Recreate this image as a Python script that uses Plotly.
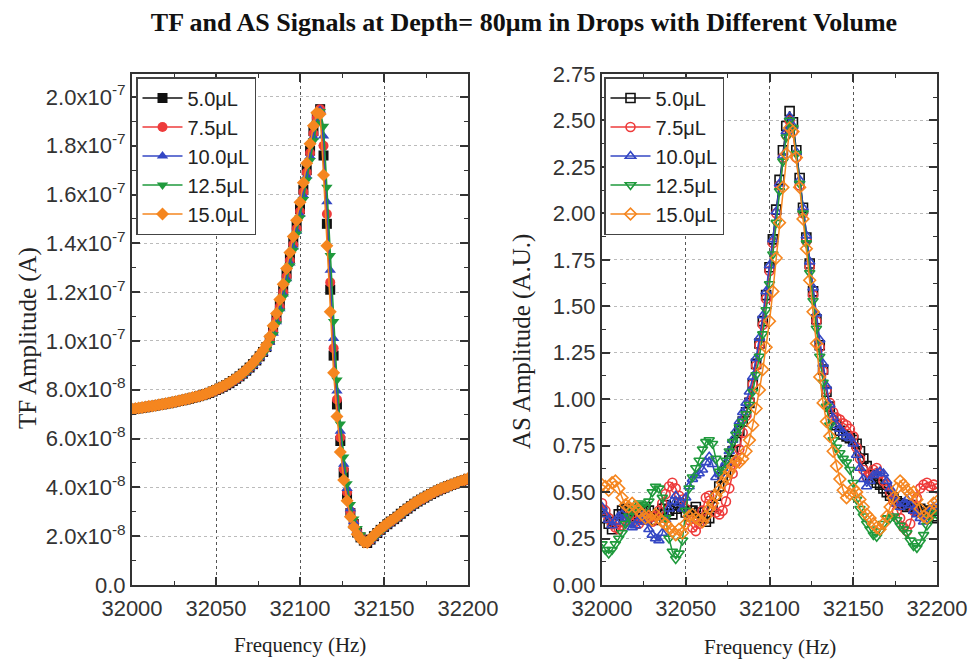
import plotly.graph_objects as go

# ---------------- data ----------------
freq = list(range(32000, 32201, 2))  # Hz, 2 Hz sampling
volumes = ["5.0μL", "7.5μL", "10.0μL", "12.5μL", "15.0μL"]
colors = ["#111111", "#ee3b3b", "#3447c4", "#1f9a3c", "#f5861f"]

# TF amplitude in units of 1e-8 A
tf_5_0 = [7.20, 7.22, 7.24, 7.26, 7.28, 7.31, 7.33, 7.35, 7.38, 7.40,
          7.43, 7.45, 7.48, 7.51, 7.54, 7.57, 7.60, 7.63, 7.67, 7.70,
          7.74, 7.78, 7.82, 7.87, 7.93, 7.99, 8.05, 8.12, 8.19, 8.27,
          8.36, 8.45, 8.55, 8.66, 8.78, 8.91, 9.05, 9.20, 9.37, 9.55,
          9.75, 10.05, 10.45, 10.95, 11.50, 12.10, 12.75, 13.40, 14.05, 14.70,
          15.40, 16.20, 17.00, 17.80, 18.60, 19.20, 19.50, 17.60, 14.80, 12.10,
          9.40, 7.40, 5.90, 4.60, 3.70, 2.95, 2.50, 2.15, 1.95, 1.82,
          1.72, 1.86, 2.00, 2.13, 2.26, 2.38, 2.49, 2.60, 2.70, 2.80,
          2.92, 3.03, 3.13, 3.23, 3.33, 3.42, 3.50, 3.58, 3.66, 3.73,
          3.80, 3.87, 3.93, 3.99, 4.05, 4.10, 4.15, 4.20, 4.25, 4.30,
          4.35]
tf_7_5 = [7.20, 7.22, 7.24, 7.26, 7.29, 7.31, 7.33, 7.36, 7.38, 7.40,
          7.43, 7.46, 7.48, 7.51, 7.54, 7.57, 7.60, 7.63, 7.67, 7.70,
          7.74, 7.78, 7.82, 7.87, 7.92, 7.98, 8.04, 8.11, 8.18, 8.26,
          8.35, 8.44, 8.54, 8.65, 8.77, 8.90, 9.04, 9.19, 9.35, 9.53,
          9.72, 10.00, 10.38, 10.86, 11.40, 12.00, 12.64, 13.30, 13.95, 14.60,
          15.30, 16.10, 16.90, 17.70, 18.50, 19.15, 19.50, 18.00, 15.20, 12.40,
          9.70, 7.60, 6.05, 4.75, 3.80, 3.02, 2.55, 2.18, 1.97, 1.83,
          1.73, 1.85, 1.99, 2.12, 2.25, 2.37, 2.48, 2.59, 2.69, 2.79,
          2.91, 3.02, 3.12, 3.22, 3.32, 3.41, 3.49, 3.57, 3.65, 3.72,
          3.79, 3.86, 3.92, 3.98, 4.04, 4.09, 4.14, 4.19, 4.24, 4.29,
          4.34]
tf_10_0 = [7.19, 7.22, 7.23, 7.26, 7.28, 7.30, 7.33, 7.35, 7.37, 7.40,
           7.42, 7.45, 7.47, 7.50, 7.53, 7.56, 7.59, 7.62, 7.66, 7.69,
           7.73, 7.77, 7.81, 7.86, 7.91, 7.97, 8.03, 8.10, 8.17, 8.25,
           8.34, 8.43, 8.52, 8.63, 8.75, 8.88, 9.01, 9.16, 9.33, 9.51,
           9.69, 9.95, 10.32, 10.79, 11.32, 11.92, 12.55, 13.20, 13.85, 14.50,
           15.18, 15.96, 16.76, 17.56, 18.36, 19.02, 19.45, 18.40, 15.70, 12.90,
           10.10, 7.95, 6.30, 4.95, 3.95, 3.12, 2.60, 2.22, 2.00, 1.85,
           1.74, 1.83, 1.97, 2.10, 2.23, 2.35, 2.46, 2.57, 2.67, 2.77,
           2.89, 3.00, 3.10, 3.20, 3.30, 3.39, 3.48, 3.56, 3.64, 3.71,
           3.78, 3.85, 3.91, 3.97, 4.03, 4.09, 4.14, 4.19, 4.24, 4.29,
           4.34]
tf_12_5 = [7.19, 7.21, 7.23, 7.25, 7.27, 7.30, 7.32, 7.34, 7.37, 7.39,
           7.42, 7.44, 7.47, 7.50, 7.53, 7.56, 7.59, 7.62, 7.65, 7.69,
           7.72, 7.76, 7.80, 7.85, 7.90, 7.96, 8.02, 8.09, 8.16, 8.23,
           8.32, 8.41, 8.50, 8.61, 8.72, 8.85, 8.98, 9.13, 9.29, 9.46,
           9.65, 9.90, 10.25, 10.70, 11.22, 11.80, 12.42, 13.08, 13.72, 14.38,
           15.05, 15.80, 16.60, 17.40, 18.20, 18.90, 19.40, 18.80, 16.30, 13.50,
           10.80, 8.40, 6.60, 5.25, 4.15, 3.30, 2.70, 2.32, 2.05, 1.88,
           1.76, 1.80, 1.94, 2.07, 2.20, 2.32, 2.44, 2.55, 2.65, 2.75,
           2.86, 2.97, 3.08, 3.18, 3.28, 3.37, 3.46, 3.54, 3.62, 3.70,
           3.77, 3.84, 3.90, 3.96, 4.02, 4.08, 4.13, 4.18, 4.23, 4.28,
           4.33]
tf_15_0 = [7.21, 7.23, 7.25, 7.27, 7.29, 7.32, 7.34, 7.36, 7.39, 7.41,
           7.44, 7.46, 7.49, 7.52, 7.55, 7.58, 7.61, 7.64, 7.68, 7.71,
           7.75, 7.79, 7.84, 7.89, 7.95, 8.01, 8.07, 8.14, 8.22, 8.30,
           8.39, 8.48, 8.59, 8.70, 8.82, 8.96, 9.10, 9.26, 9.43, 9.62,
           9.85, 10.18, 10.62, 11.13, 11.70, 12.32, 12.97, 13.63, 14.28, 14.95,
           15.68, 16.48, 17.28, 18.08, 18.82, 19.35, 19.30, 16.80, 13.90, 11.20,
           8.70, 6.90, 5.45, 4.30, 3.45, 2.80, 2.38, 2.08, 1.90, 1.76,
           1.74, 1.90, 2.05, 2.18, 2.30, 2.42, 2.53, 2.63, 2.73, 2.83,
           2.95, 3.06, 3.16, 3.26, 3.36, 3.44, 3.52, 3.60, 3.68, 3.75,
           3.82, 3.89, 3.95, 4.01, 4.06, 4.11, 4.16, 4.21, 4.26, 4.31,
           4.36]

# AS amplitude (A.U.)
as_5_0 = [0.40, 0.36, 0.33, 0.30, 0.34, 0.38, 0.40, 0.41, 0.39, 0.37,
          0.36, 0.38, 0.40, 0.42, 0.40, 0.37, 0.35, 0.38, 0.41, 0.43,
          0.40, 0.38, 0.41, 0.44, 0.42, 0.39, 0.37, 0.40, 0.42, 0.39,
          0.36, 0.34, 0.36, 0.42, 0.48, 0.53, 0.58, 0.62, 0.67, 0.72,
          0.77, 0.83, 0.88, 0.93, 0.98, 1.08, 1.19, 1.30, 1.42, 1.56,
          1.71, 1.86, 2.02, 2.18, 2.34, 2.47, 2.55, 2.49, 2.34, 2.19,
          2.03, 1.87, 1.73, 1.58, 1.43, 1.29, 1.16, 1.04, 0.96, 0.90,
          0.86, 0.83, 0.81, 0.80, 0.79, 0.78, 0.76, 0.72, 0.68, 0.64,
          0.59, 0.57, 0.55, 0.54, 0.52, 0.50, 0.48, 0.47, 0.45, 0.44,
          0.43, 0.42, 0.43, 0.41, 0.40, 0.41, 0.39, 0.38, 0.40, 0.37,
          0.36]
as_7_5 = [0.44, 0.40, 0.36, 0.33, 0.31, 0.30, 0.32, 0.35, 0.37, 0.36,
          0.34, 0.33, 0.35, 0.38, 0.36, 0.34, 0.37, 0.40, 0.44, 0.49,
          0.53, 0.55, 0.52, 0.48, 0.46, 0.41, 0.35, 0.31, 0.29, 0.33,
          0.40, 0.47, 0.48, 0.44, 0.39, 0.38, 0.40, 0.45, 0.52, 0.60,
          0.66, 0.73, 0.82, 0.91, 0.99, 1.08, 1.18, 1.29, 1.40, 1.54,
          1.69, 1.84, 2.00, 2.15, 2.30, 2.42, 2.50, 2.44, 2.30, 2.15,
          2.00, 1.85, 1.71, 1.56, 1.42, 1.28, 1.15, 1.05, 0.98, 0.93,
          0.90, 0.89, 0.87, 0.86, 0.84, 0.80, 0.74, 0.68, 0.62, 0.58,
          0.60, 0.62, 0.63, 0.60, 0.56, 0.54, 0.50, 0.45, 0.40, 0.36,
          0.31, 0.29, 0.33, 0.40, 0.47, 0.52, 0.54, 0.55, 0.53, 0.54,
          0.52]
as_10_0 = [0.42, 0.38, 0.35, 0.32, 0.34, 0.37, 0.38, 0.36, 0.33, 0.31,
           0.32, 0.35, 0.37, 0.34, 0.30, 0.27, 0.25, 0.24, 0.28, 0.35,
           0.41, 0.45, 0.48, 0.44, 0.41, 0.47, 0.53, 0.57, 0.59, 0.60,
           0.62, 0.66, 0.69, 0.65, 0.58, 0.60, 0.63, 0.66, 0.72, 0.78,
           0.83, 0.88, 0.93, 0.98, 1.04, 1.12, 1.22, 1.33, 1.45, 1.58,
           1.72, 1.86, 2.01, 2.16, 2.31, 2.44, 2.52, 2.47, 2.33, 2.18,
           2.03, 1.88, 1.74, 1.60, 1.46, 1.32, 1.19, 1.07, 0.97, 0.90,
           0.86, 0.84, 0.82, 0.80, 0.79, 0.76, 0.70, 0.63, 0.57, 0.53,
           0.56, 0.59, 0.60, 0.61, 0.60, 0.56, 0.52, 0.48, 0.44, 0.42,
           0.44, 0.46, 0.43, 0.40, 0.38, 0.36, 0.34, 0.37, 0.40, 0.42,
           0.41]
as_12_5 = [0.22, 0.19, 0.17, 0.19, 0.22, 0.25, 0.28, 0.33, 0.37, 0.40,
           0.42, 0.44, 0.43, 0.42, 0.45, 0.50, 0.53, 0.52, 0.47, 0.36,
           0.25, 0.18, 0.14, 0.17, 0.24, 0.40, 0.52, 0.58, 0.63, 0.67,
           0.73, 0.77, 0.78, 0.76, 0.68, 0.61, 0.62, 0.67, 0.72, 0.77,
           0.81, 0.85, 0.88, 0.92, 0.97, 1.04, 1.13, 1.23, 1.35, 1.48,
           1.62, 1.78, 1.95, 2.12, 2.28, 2.41, 2.50, 2.46, 2.32, 2.16,
           2.00, 1.84, 1.68, 1.53, 1.38, 1.23, 1.09, 0.96, 0.86, 0.78,
           0.74, 0.71, 0.68, 0.66, 0.62, 0.55, 0.46, 0.41, 0.37, 0.33,
           0.30, 0.27, 0.26, 0.29, 0.33, 0.36, 0.36, 0.37, 0.35, 0.32,
           0.30, 0.28, 0.24, 0.21, 0.20, 0.23, 0.27, 0.32, 0.36, 0.39,
           0.38]
as_15_0 = [0.54, 0.53, 0.51, 0.55, 0.56, 0.52, 0.47, 0.43, 0.42, 0.44,
           0.42, 0.40, 0.38, 0.36, 0.37, 0.35, 0.38, 0.36, 0.34, 0.33,
           0.31, 0.29, 0.27, 0.30, 0.28, 0.33, 0.37, 0.38, 0.36, 0.35,
           0.34, 0.37, 0.41, 0.44, 0.48, 0.51, 0.55, 0.58, 0.61, 0.64,
           0.67, 0.66, 0.68, 0.72, 0.78, 0.86, 0.95, 1.05, 1.16, 1.28,
           1.42, 1.58, 1.76, 1.95, 2.14, 2.32, 2.46, 2.44, 2.30, 2.14,
           1.97, 1.81, 1.64, 1.47, 1.30, 1.12, 0.98, 0.88, 0.80, 0.72,
           0.64, 0.57, 0.51, 0.47, 0.49, 0.52, 0.50, 0.46, 0.42, 0.38,
           0.36, 0.33, 0.31, 0.30, 0.33, 0.37, 0.42, 0.47, 0.52, 0.56,
           0.54, 0.51, 0.49, 0.50, 0.46, 0.41, 0.37, 0.36, 0.40, 0.44,
           0.45]

tf_series = [tf_5_0, tf_7_5, tf_10_0, tf_12_5, tf_15_0]
as_series = [as_5_0, as_7_5, as_10_0, as_12_5, as_15_0]
for s in tf_series + as_series:
    assert len(s) == len(freq), len(s)

freq_tickvals = [32000, 32050, 32100, 32150, 32200]
freq_ticktext = ["32000", "32050", "32100", "32150", "32200"]
tf_tickvals = [0, 2, 4, 6, 8, 10, 12, 14, 16, 18, 20]
tf_ticktext = ["0.0", "2.0x10<sup>-8</sup>", "4.0x10<sup>-8</sup>", "6.0x10<sup>-8</sup>",
               "8.0x10<sup>-8</sup>", "1.0x10<sup>-7</sup>", "1.2x10<sup>-7</sup>",
               "1.4x10<sup>-7</sup>", "1.6x10<sup>-7</sup>", "1.8x10<sup>-7</sup>",
               "2.0x10<sup>-7</sup>"]
as_tickvals = [0, 0.25, 0.5, 0.75, 1.0, 1.25, 1.5, 1.75, 2.0, 2.25, 2.5, 2.75]
as_ticktext = ["0.00", "0.25", "0.50", "0.75", "1.00", "1.25", "1.50", "1.75",
               "2.00", "2.25", "2.50", "2.75"]

filled_symbols = ["square", "circle", "triangle-up", "triangle-down", "diamond"]
open_symbols = ["square-open", "circle-open", "triangle-up-open", "triangle-down-open", "diamond-open"]

# ---------------- figure ----------------
fig = go.Figure()
for name, col, sym, ys in zip(volumes, colors, filled_symbols, tf_series):
    fig.add_trace(go.Scatter(x=freq, y=ys, name=name, mode="lines+markers",
                             line=dict(color=col, width=1.5),
                             marker=dict(symbol=sym, size=10, color=col, line=dict(width=0)),
                             xaxis="x", yaxis="y", legend="legend"))
for name, col, sym, ys in zip(volumes, colors, open_symbols, as_series):
    fig.add_trace(go.Scatter(x=freq, y=ys, name=name, mode="lines+markers",
                             line=dict(color=col, width=1.5),
                             marker=dict(symbol=sym, size=9, color=col, line=dict(width=1.6, color=col)),
                             xaxis="x2", yaxis="y2", legend="legend2"))

W, H = 975, 665
def px_x(p):
    return p / W
def px_y(p):
    return 1 - p / H

tickfont = dict(family="Liberation Sans, Arial, sans-serif", size=22, color="#333")
axis_common = dict(ticks="inside", ticklen=8, tickwidth=1.5, tickcolor="#333",
                   showline=True, linewidth=2, linecolor="#333", mirror="allticks",
                   zeroline=False, tickfont=tickfont, showgrid=True, gridwidth=1.3,
                   automargin=False)

xcommon = dict(axis_common, range=[32000, 32200], tickmode="array",
               tickvals=freq_tickvals, ticktext=freq_ticktext,
               gridcolor="#555", griddash="dot", ticklabelstandoff=3,
               minor=dict(ticks="inside", ticklen=4, tickwidth=1.3, tickcolor="#333",
                          tick0=32000, dtick=25, showgrid=False))

legend_common = dict(xanchor="left", yanchor="top", bgcolor="white",
                     bordercolor="#444", borderwidth=1.5,
                     font=dict(family="Liberation Sans, Arial, sans-serif", size=20, color="#222"),
                     tracegroupgap=0, itemwidth=40)

fig.update_layout(
    template="none",
    width=W, height=H,
    margin=dict(l=0, r=0, t=0, b=0, autoexpand=False),
    paper_bgcolor="white", plot_bgcolor="white",
    showlegend=True,
    title=dict(text="<b>TF and AS Signals at Depth= 80μm in Drops with Different Volume</b>",
               x=px_x(524), y=px_y(22), xanchor="center", yanchor="middle",
               xref="paper", yref="container",
               font=dict(family="Liberation Serif, Times New Roman, serif", size=26, color="#111")),
    xaxis=dict(xcommon, domain=[px_x(132), px_x(468)], anchor="y"),
    xaxis2=dict(xcommon, domain=[px_x(602), px_x(937)], anchor="y2"),
    yaxis=dict(axis_common, domain=[px_y(585), px_y(74)], anchor="x",
               range=[0, 20.94], tickmode="array", tickvals=tf_tickvals, ticktext=tf_ticktext,
               gridcolor="#bbbbbb", griddash="dot",
               minor=dict(ticks="inside", ticklen=4, tickwidth=1.3, tickcolor="#333",
                          tick0=0, dtick=1, showgrid=False)),
    yaxis2=dict(axis_common, domain=[px_y(585), px_y(74)], anchor="x2",
                range=[0, 2.75], tickmode="array", tickvals=as_tickvals, ticktext=as_ticktext,
                gridcolor="#bbbbbb", griddash="dot",
                minor=dict(ticks="inside", ticklen=4, tickwidth=1.3, tickcolor="#333",
                           tick0=0, dtick=0.125, showgrid=False)),
    legend=dict(legend_common, x=px_x(136), y=px_y(77)),
    legend2=dict(legend_common, x=px_x(604), y=px_y(77)),
)

title_font = dict(family="Liberation Serif, Times New Roman, serif", size=21, color="#222")
ytitle_font = dict(family="Liberation Serif, Times New Roman, serif", size=25, color="#222")
fig.add_annotation(text="Frequency (Hz)", x=px_x(300), y=px_y(645), xref="paper", yref="paper",
                   showarrow=False, font=title_font, xanchor="center", yanchor="middle")
fig.add_annotation(text="Frequency (Hz)", x=px_x(770), y=px_y(647), xref="paper", yref="paper",
                   showarrow=False, font=title_font, xanchor="center", yanchor="middle")
fig.add_annotation(text="TF Amplitude (A)", x=px_x(28), y=px_y(338), xref="paper", yref="paper",
                   showarrow=False, font=ytitle_font, textangle=-90, xanchor="center", yanchor="middle")
fig.add_annotation(text="AS Amplitude (A.U.)", x=px_x(522), y=px_y(342), xref="paper", yref="paper",
                   showarrow=False, font=ytitle_font, textangle=-90, xanchor="center", yanchor="middle")

fig.write_html("out.html")
